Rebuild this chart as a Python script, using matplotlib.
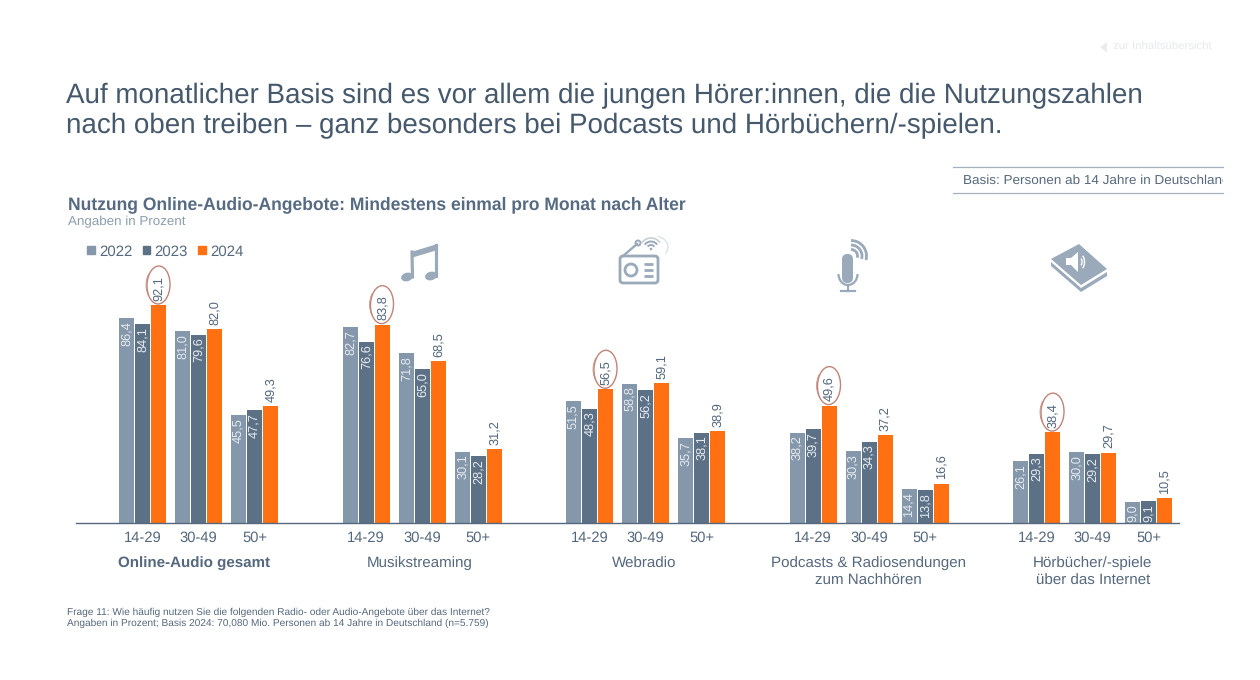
import matplotlib
matplotlib.use("Agg")
import matplotlib.pyplot as plt
from matplotlib.patches import Ellipse, Arc, FancyBboxPatch, Polygon, Circle, Rectangle, Patch

plt.rcParams['font.family'] = ['Liberation Sans', 'DejaVu Sans']
plt.rcParams['text.hinting'] = 'no_hinting'

years = ['2022', '2023', '2024']
ages = ['14-29', '30-49', '50+']
panels = ['Online-Audio gesamt', 'Musikstreaming', 'Webradio',
          'Podcasts & Radiosendungen\nzum Nachhören', 'Hörbücher/-spiele\nüber das Internet']
v2022 = [86.4, 81.0, 45.5, 82.7, 71.8, 30.1, 51.5, 58.8, 35.7, 38.2, 30.3, 14.4, 26.1, 30.0, 9.0]
v2023 = [84.1, 79.6, 47.7, 76.6, 65.0, 28.2, 48.3, 56.2, 38.1, 39.7, 34.3, 13.8, 29.3, 29.2, 9.1]
v2024 = [92.1, 82.0, 49.3, 83.8, 68.5, 31.2, 56.5, 59.1, 38.9, 49.6, 37.2, 16.6, 38.4, 29.7, 10.5]

C22, C23, C24 = '#8497AB', '#5C7086', '#FF7012'
TXT, ICON, RED = '#55687D', '#9AAABA', '#C08478'

W, H = 1260, 680
fig = plt.figure(figsize=(W / 100, H / 100), dpi=100, facecolor='white')

# chart axes: x in figure pixels, y in percent
left, right, base, ppu = 76, 1179, 523, 2.367
ax = fig.add_axes([left / W, (H - base) / H, (right - left) / W, 100 * ppu / H])
ax.set_xlim(left, right)
ax.set_ylim(0, 100)
ax.patch.set_alpha(0)
for s in ('top', 'left', 'right'):
    ax.spines[s].set_visible(False)
ax.spines['bottom'].set_color('#55687D')
ax.spines['bottom'].set_linewidth(1)
ax.set_yticks([])

PANEL_STEP, AGE_STEP, BAR_STEP, X0 = 223.5, 56, 16, 142.5
centers = [X0 + p * PANEL_STEP + a * AGE_STEP for p in range(5) for a in range(3)]
for offs, vals, col, name in ((-1, v2022, C22, '2022'), (0, v2023, C23, '2023'), (1, v2024, C24, '2024')):
    xs = [c + offs * BAR_STEP for c in centers]
    ax.bar(xs, vals, width=15, color=col, label=name, linewidth=0)
    for x, v in zip(xs, vals):
        lab = f'{v:.1f}'.replace('.', ',')
        if offs == 1:
            ax.text(x, v + 1.8, lab, rotation=90, ha='center', va='bottom', fontsize=9.2, color=TXT)
        else:
            ax.text(x, v - 1.2, lab, rotation=90, ha='center', va='top', fontsize=9.2, color='#E4E9EE')

ax.set_xticks(centers)
ax.set_xticklabels(ages * 5, fontsize=10.6, color=TXT)
ax.tick_params(axis='x', length=0, pad=6)

# overlay in pixel coordinates
ov = fig.add_axes([0, 0, 1, 1], zorder=5)
ov.set_xlim(0, W)
ov.set_ylim(H, 0)
ov.axis('off')
ov.patch.set_alpha(0)

ov.text(66, 96, 'Auf monatlicher Basis sind es vor allem die jungen Hörer:innen, die die Nutzungszahlen',
        fontsize=20, color='#46596C', va='center')
ov.text(66, 126, 'nach oben treiben – ganz besonders bei Podcasts und Hörbüchern/-spielen.',
        fontsize=20, color='#46596C', va='center')
ov.text(68, 204.5, 'Nutzung Online-Audio-Angebote: Mindestens einmal pro Monat nach Alter',
        fontsize=12.65, fontweight='bold', color='#566B82', va='center')
ov.text(68.5, 222, 'Angaben in Prozent', fontsize=9.6, color='#8C9DAE', va='center')

# top-right hints
ov.add_patch(Polygon([[1100, 47], [1107, 42], [1107, 53]], color='#EAEDF0', lw=0))
ov.text(1113, 47.5, 'zur Inhaltsübersicht', fontsize=8.2, color='#E6E9EC', va='center')
ov.plot([953, 1223], [167, 167], color='#A3B1BF', lw=0.9)
ov.plot([953, 1223], [193, 193], color='#A3B1BF', lw=0.9)
t = ov.text(963, 180.5, 'Basis: Personen ab 14 Jahre in Deutschland', fontsize=9.7, color=TXT, va='center',
            clip_on=True)
t.set_clip_path(Rectangle((953, 160), 270, 40, transform=ov.transData))

# legend
handles = [Patch(color=c, label=y) for c, y in zip((C22, C23, C24), years)]
fig.legend(handles=handles, loc='upper left', bbox_to_anchor=(87 / W, 1 - 244.5 / H), ncol=3, frameon=False,
           fontsize=10.8, labelcolor=TXT, handlelength=0.5, handleheight=0.5, handletextpad=0.3,
           columnspacing=0.68, borderpad=0, borderaxespad=0)

# panel names
for i, name in enumerate(panels):
    cx = 194.5 if i == 0 else 195.5 + 224.3 * i
    ov.text(cx, 556.5, name, ha='center', va='top',
            fontsize=10.9, color=TXT, fontweight='bold' if i == 0 else 'normal', linespacing=1.32)

# hand-drawn circles on the 14-29 values of 2024
for i in range(5):
    cx = X0 + i * PANEL_STEP + BAR_STEP
    top = base - v2024[i * 3] * ppu
    ov.add_patch(Ellipse((cx, top - 20), 23, 38, fill=False, ec=RED, lw=1, angle=2))
    ov.add_patch(Arc((cx - 0.5, top - 20), 24, 35, theta1=130, theta2=230, ec=RED, lw=0.5))

# music icon
ov.add_patch(Polygon([[411, 252], [437.5, 244], [437.5, 250], [411, 258]], color=ICON, lw=0))
ov.plot([412, 412.5], [252, 277], color=ICON, lw=2.3)
ov.plot([436.3, 436.3], [245, 276], color=ICON, lw=2.3)
ov.add_patch(Ellipse((407, 277), 12, 8.5, color=ICON, lw=0, angle=-15))
ov.add_patch(Ellipse((431, 276), 12, 8.5, color=ICON, lw=0, angle=-15))

# radio icon
ov.add_patch(FancyBboxPatch((620, 256), 38, 27, boxstyle='round,pad=0,rounding_size=3', fill=False, ec=ICON, lw=2))
ov.add_patch(Circle((631, 270), 6, fill=False, ec=ICON, lw=2))
for y in (264, 270, 276):
    ov.plot([644, 653], [y, y], color=ICON, lw=2, solid_capstyle='butt')
ov.plot([623, 637], [256, 244], color=ICON, lw=1.7)
ov.add_patch(Circle((638, 243), 2.5, fill=False, ec=ICON, lw=1.4))
ov.add_patch(Circle((651, 249), 1.3, color=ICON, lw=0))
for d, lw, col in ((8, 1.4, ICON), (15, 1.4, ICON), (22, 1.2, '#C5CFD8')):
    ov.add_patch(Arc((651, 249), d, d, theta1=215, theta2=325, ec=col, lw=lw))
ov.add_patch(Arc((654, 247), 28, 22, theta1=290, theta2=30, ec='#D5DCE3', lw=0.8))

# microphone icon
ov.add_patch(FancyBboxPatch((842, 254), 11, 29, boxstyle='round,pad=0,rounding_size=5.4', color=ICON, lw=0))
ov.add_patch(Arc((848, 274), 19, 22, theta1=0, theta2=180, ec=ICON, lw=1.6))
ov.plot([848, 848], [285, 291], color=ICON, lw=1.6)
ov.plot([841, 855], [291, 291], color=ICON, lw=1.6)
for d in (13, 22, 31):
    ov.add_patch(Arc((851, 256), d, d, theta1=280, theta2=25, angle=-10, ec=ICON, lw=2))

# book icon
ov.add_patch(Polygon([[1051, 259], [1079, 244], [1107, 269], [1081, 285]], color=ICON, lw=0))
ov.add_patch(Polygon([[1051, 262], [1081, 288], [1107, 272], [1107, 276], [1081, 292], [1051, 266]],
                     color=ICON, lw=0))
ov.add_patch(Polygon([[1066, 258], [1071, 258], [1078, 252], [1078, 272], [1071, 265], [1066, 265]],
                     color='white', lw=0))
for d in (6, 11):
    ov.add_patch(Arc((1079, 262), d, d * 1.5, theta1=-60, theta2=60, ec='white', lw=1))

# footnote
ov.text(67, 612, 'Frage 11: Wie häufig nutzen Sie die folgenden Radio- oder Audio-Angebote über das Internet?',
        fontsize=7.3, color=TXT, va='center')
ov.text(67, 623, 'Angaben in Prozent; Basis 2024: 70,080 Mio. Personen ab 14 Jahre in Deutschland (n=5.759)',
        fontsize=7.3, color=TXT, va='center')

fig.savefig('out.png', dpi=100, facecolor='white')
